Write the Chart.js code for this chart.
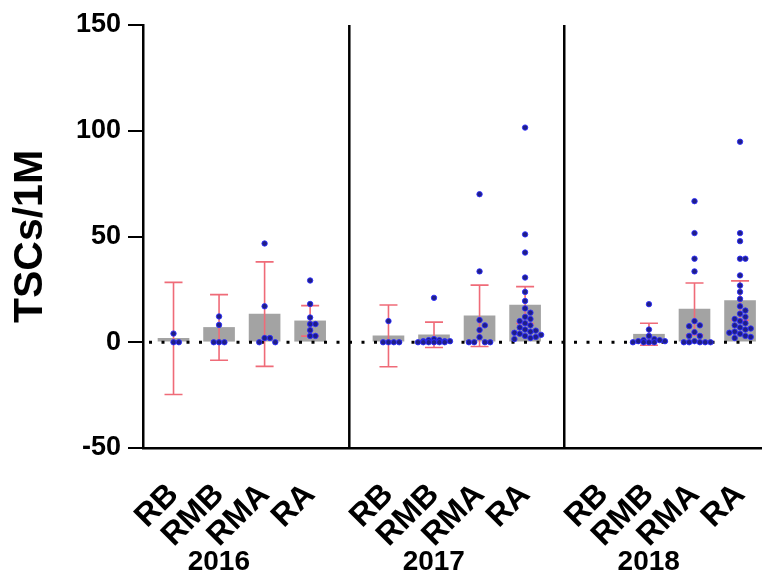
<!DOCTYPE html>
<html>
<head>
<meta charset="utf-8">
<script src="https://cdn.jsdelivr.net/npm/chart.js@4.4.0/dist/chart.umd.min.js"></script>
<style>
  html, body { margin: 0; padding: 0; background: #fff; }
  #wrap { width: 766px; height: 576px; }
</style>
</head>
<body>
<div id="wrap"><canvas id="chart" width="766" height="576"></canvas></div>
<script>
// categories and groups
const categories = ["RB", "RMB", "RMA", "RA"];
const years = ["2016", "2017", "2018"];

// bar heights (mean) and error (SD) per year, in category order
const mean2016 = [1.8, 7.0, 13.3, 10.1];
const sd2016 = [26.5, 15.5, 24.7, 7.2];
const mean2017 = [3.0, 3.5, 12.5, 17.6];
const sd2017 = [14.6, 6.0, 14.5, 8.7];
const mean2018 = [null, 3.8, 15.7, 19.7];
const sd2018 = [null, 5.2, 12.3, 9.3];

// individual points per year, one list per category
const pts2016 = [
  [4.1, 0, 0],
  [12.2, 8.2, 0, 0, 0],
  [46.7, 17, 2, 2, 0, 0],
  [29.2, 18.1, 11.7, 8.6, 8.6, 5.7, 3, 3]
];
const pts2017 = [
  [10, 0, 0, 0, 0],
  [21, 1.5, 1, 1, 0.5, 0.5, 0.5, 0, 0, 0, 0, 0, 0],
  [70, 33.5, 10.5, 8, 5.8, 2.4, 0, 0, 0, 0],
  [101.5, 51, 42.4, 30.6, 23.8, 19.5, 16, 14, 12, 11, 10, 9, 8, 7, 6, 5.5, 5, 4.5, 4, 3.5, 3, 2.5, 2, 1.5]
];
const pts2018 = [
  [],
  [18, 6, 3, 1.5, 1, 1, 0.5, 0.5, 0, 0, 0, 0],
  [66.7, 51.6, 39.5, 33.5, 10, 8, 7.6, 4.8, 3, 3, 0.5, 0, 0, 0, 0, 0],
  [94.8, 51.6, 47.8, 39.5, 39.5, 31.6, 26.8, 23.8, 20.5, 17, 15, 13.5, 12, 11, 10, 9, 8, 7, 6.5, 6, 5, 4.5, 4, 3, 2.5, 2]
];

// y axis ticks
const yTicks = [-50, 0, 50, 100, 150];

const means = [mean2016, mean2017, mean2018];
const sds = [sd2016, sd2017, sd2018];
const points = [pts2016, pts2017, pts2018];

// layout helpers (x is a linear axis, one unit per category)
const GROUP_STEP = 4.72;
const PX_PER_X = 46;
const PX_PER_Y = 2.11;
const DOT_R = 2.7;
const SWARM_STEP = 5.4;

function xPos(g, c) {
  return g * GROUP_STEP + c;
}

// simple deterministic beeswarm, returns offsets in x units
function swarm(values) {
  const placed = [];
  const offs = new Array(values.length).fill(0);
  const order = values.map((v, i) => i).sort((a, b) => values[b] - values[a]);
  order.forEach((i) => {
    const py = values[i] * PX_PER_Y;
    let best = 0, bestD = -1;
    for (let k = 0; k < 7; k++) {
      const dx = (k % 2 ? 1 : -1) * Math.ceil(k / 2) * SWARM_STEP;
      let minD = Infinity;
      placed.forEach((p) => {
        minD = Math.min(minD, Math.hypot(dx - p.dx, py - p.py));
      });
      if (minD >= SWARM_STEP) { best = dx; bestD = minD; break; }
      if (minD > bestD) { bestD = minD; best = dx; }
    }
    placed.push({ dx: best, py: py });
    offs[i] = best / PX_PER_X;
  });
  return offs;
}

// build datasets
const barData = [];
const dotData = [];
const tickPositions = [];
years.forEach((yr, g) => {
  categories.forEach((cat, c) => {
    const x = xPos(g, c);
    tickPositions.push(x);
    if (means[g][c] !== null) barData.push({ x: x, y: means[g][c], sd: sds[g][c] });
    const vals = points[g][c];
    const offs = swarm(vals);
    vals.forEach((v, i) => dotData.push({ x: x + offs[i], y: v }));
  });
});

const FONT = "'Liberation Sans', Arial, Helvetica, sans-serif";

// error bars + dotted zero line, drawn right after the bars
const errorBarPlugin = {
  id: "errorBars",
  afterDatasetDraw(chart, args) {
    if (args.index !== 0) return;
    const { ctx, chartArea, scales } = chart;
    const xs = scales.x, ys = scales.y;
    ctx.save();
    // zero line
    const y0 = ys.getPixelForValue(0);
    ctx.strokeStyle = "#000";
    ctx.lineWidth = 3;
    ctx.setLineDash([3, 9.5]);
    ctx.beginPath();
    ctx.moveTo(chartArea.left + 6, y0);
    ctx.lineTo(chartArea.right, y0);
    ctx.stroke();
    ctx.setLineDash([]);
    // error bars
    ctx.strokeStyle = "#ef6b78";
    ctx.lineWidth = 1.6;
    barData.forEach((d) => {
      const px = xs.getPixelForValue(d.x);
      const top = ys.getPixelForValue(d.y + d.sd);
      const bot = ys.getPixelForValue(d.y - d.sd);
      ctx.beginPath();
      ctx.moveTo(px, top); ctx.lineTo(px, bot);
      ctx.moveTo(px - 9, top); ctx.lineTo(px + 9, top);
      ctx.moveTo(px - 9, bot); ctx.lineTo(px + 9, bot);
      ctx.stroke();
    });
    ctx.restore();
  },
  afterDraw(chart) {
    const { ctx, chartArea, scales } = chart;
    const xs = scales.x;
    ctx.save();
    // group separators
    ctx.strokeStyle = "#000";
    ctx.lineWidth = 2.5;
    for (let g = 0; g < years.length - 1; g++) {
      const sep = xs.getPixelForValue(xPos(g, 3) + (GROUP_STEP - 3) / 2);
      ctx.beginPath();
      ctx.moveTo(sep, chartArea.top);
      ctx.lineTo(sep, chartArea.bottom);
      ctx.stroke();
    }
    // year labels
    ctx.fillStyle = "#000";
    ctx.font = "bold 28px " + FONT;
    ctx.textAlign = "center";
    ctx.textBaseline = "middle";
    years.forEach((yr, g) => {
      const cx = xs.getPixelForValue(xPos(g, 1.5)) - 23;
      ctx.fillText(yr, cx, 562);
    });
    ctx.restore();
  }
};

new Chart(document.getElementById("chart"), {
  type: "bar",
  data: {
    datasets: [
      {
        type: "bar",
        data: barData,
        backgroundColor: "#a3a3a3",
        borderWidth: 0,
        barThickness: 31,
        order: 2
      },
      {
        type: "scatter",
        data: dotData,
        backgroundColor: "#1f1f86",
        borderColor: "rgba(45,45,255,0.9)",
        borderWidth: 1,
        pointRadius: DOT_R,
        order: 1
      }
    ]
  },
  options: {
    responsive: false,
    animation: false,
    layout: { padding: { top: 25, right: 0, left: 0, bottom: 0 } },
    plugins: { legend: { display: false }, tooltip: { enabled: false } },
    scales: {
      x: {
        type: "linear",
        min: -0.67,
        max: 12.9,
        offset: false,
        grid: { display: false },
        border: { display: true, color: "#000", width: 2.5 },
        ticks: {
          autoSkip: false,
          minRotation: 45,
          maxRotation: 45,
          padding: 20,
          labelOffset: 0,
          color: "#000",
          font: { family: FONT, size: 32, weight: "bold" },
          callback: (v, i) => categories[i % categories.length]
        },
        afterBuildTicks: (scale) => {
          scale.ticks = tickPositions.map((v) => ({ value: v }));
        },
        afterFit: (scale) => {
          scale.height = 128;
          scale.paddingLeft = 0;
          scale.paddingRight = 0;
        }
      },
      y: {
        min: -50,
        max: 150,
        grid: {
          display: true,
          drawOnChartArea: false,
          drawTicks: true,
          tickLength: 15,
          color: "#000",
          lineWidth: 2
        },
        border: { display: true, color: "#000", width: 2.5 },
        ticks: {
          stepSize: 50,
          padding: 7,
          color: "#000",
          font: { family: FONT, size: 27, weight: "bold" }
        },
        afterBuildTicks: (scale) => {
          scale.ticks = yTicks.map((v) => ({ value: v }));
        },
        title: {
          display: true,
          text: "TSCs/1M",
          color: "#000",
          font: { family: FONT, size: 41, weight: "bold" },
          padding: { top: 6, bottom: 0 }
        },
        afterFit: (scale) => {
          scale.width = 143;
        }
      }
    }
  },
  plugins: [errorBarPlugin]
});
</script>
</body>
</html>
